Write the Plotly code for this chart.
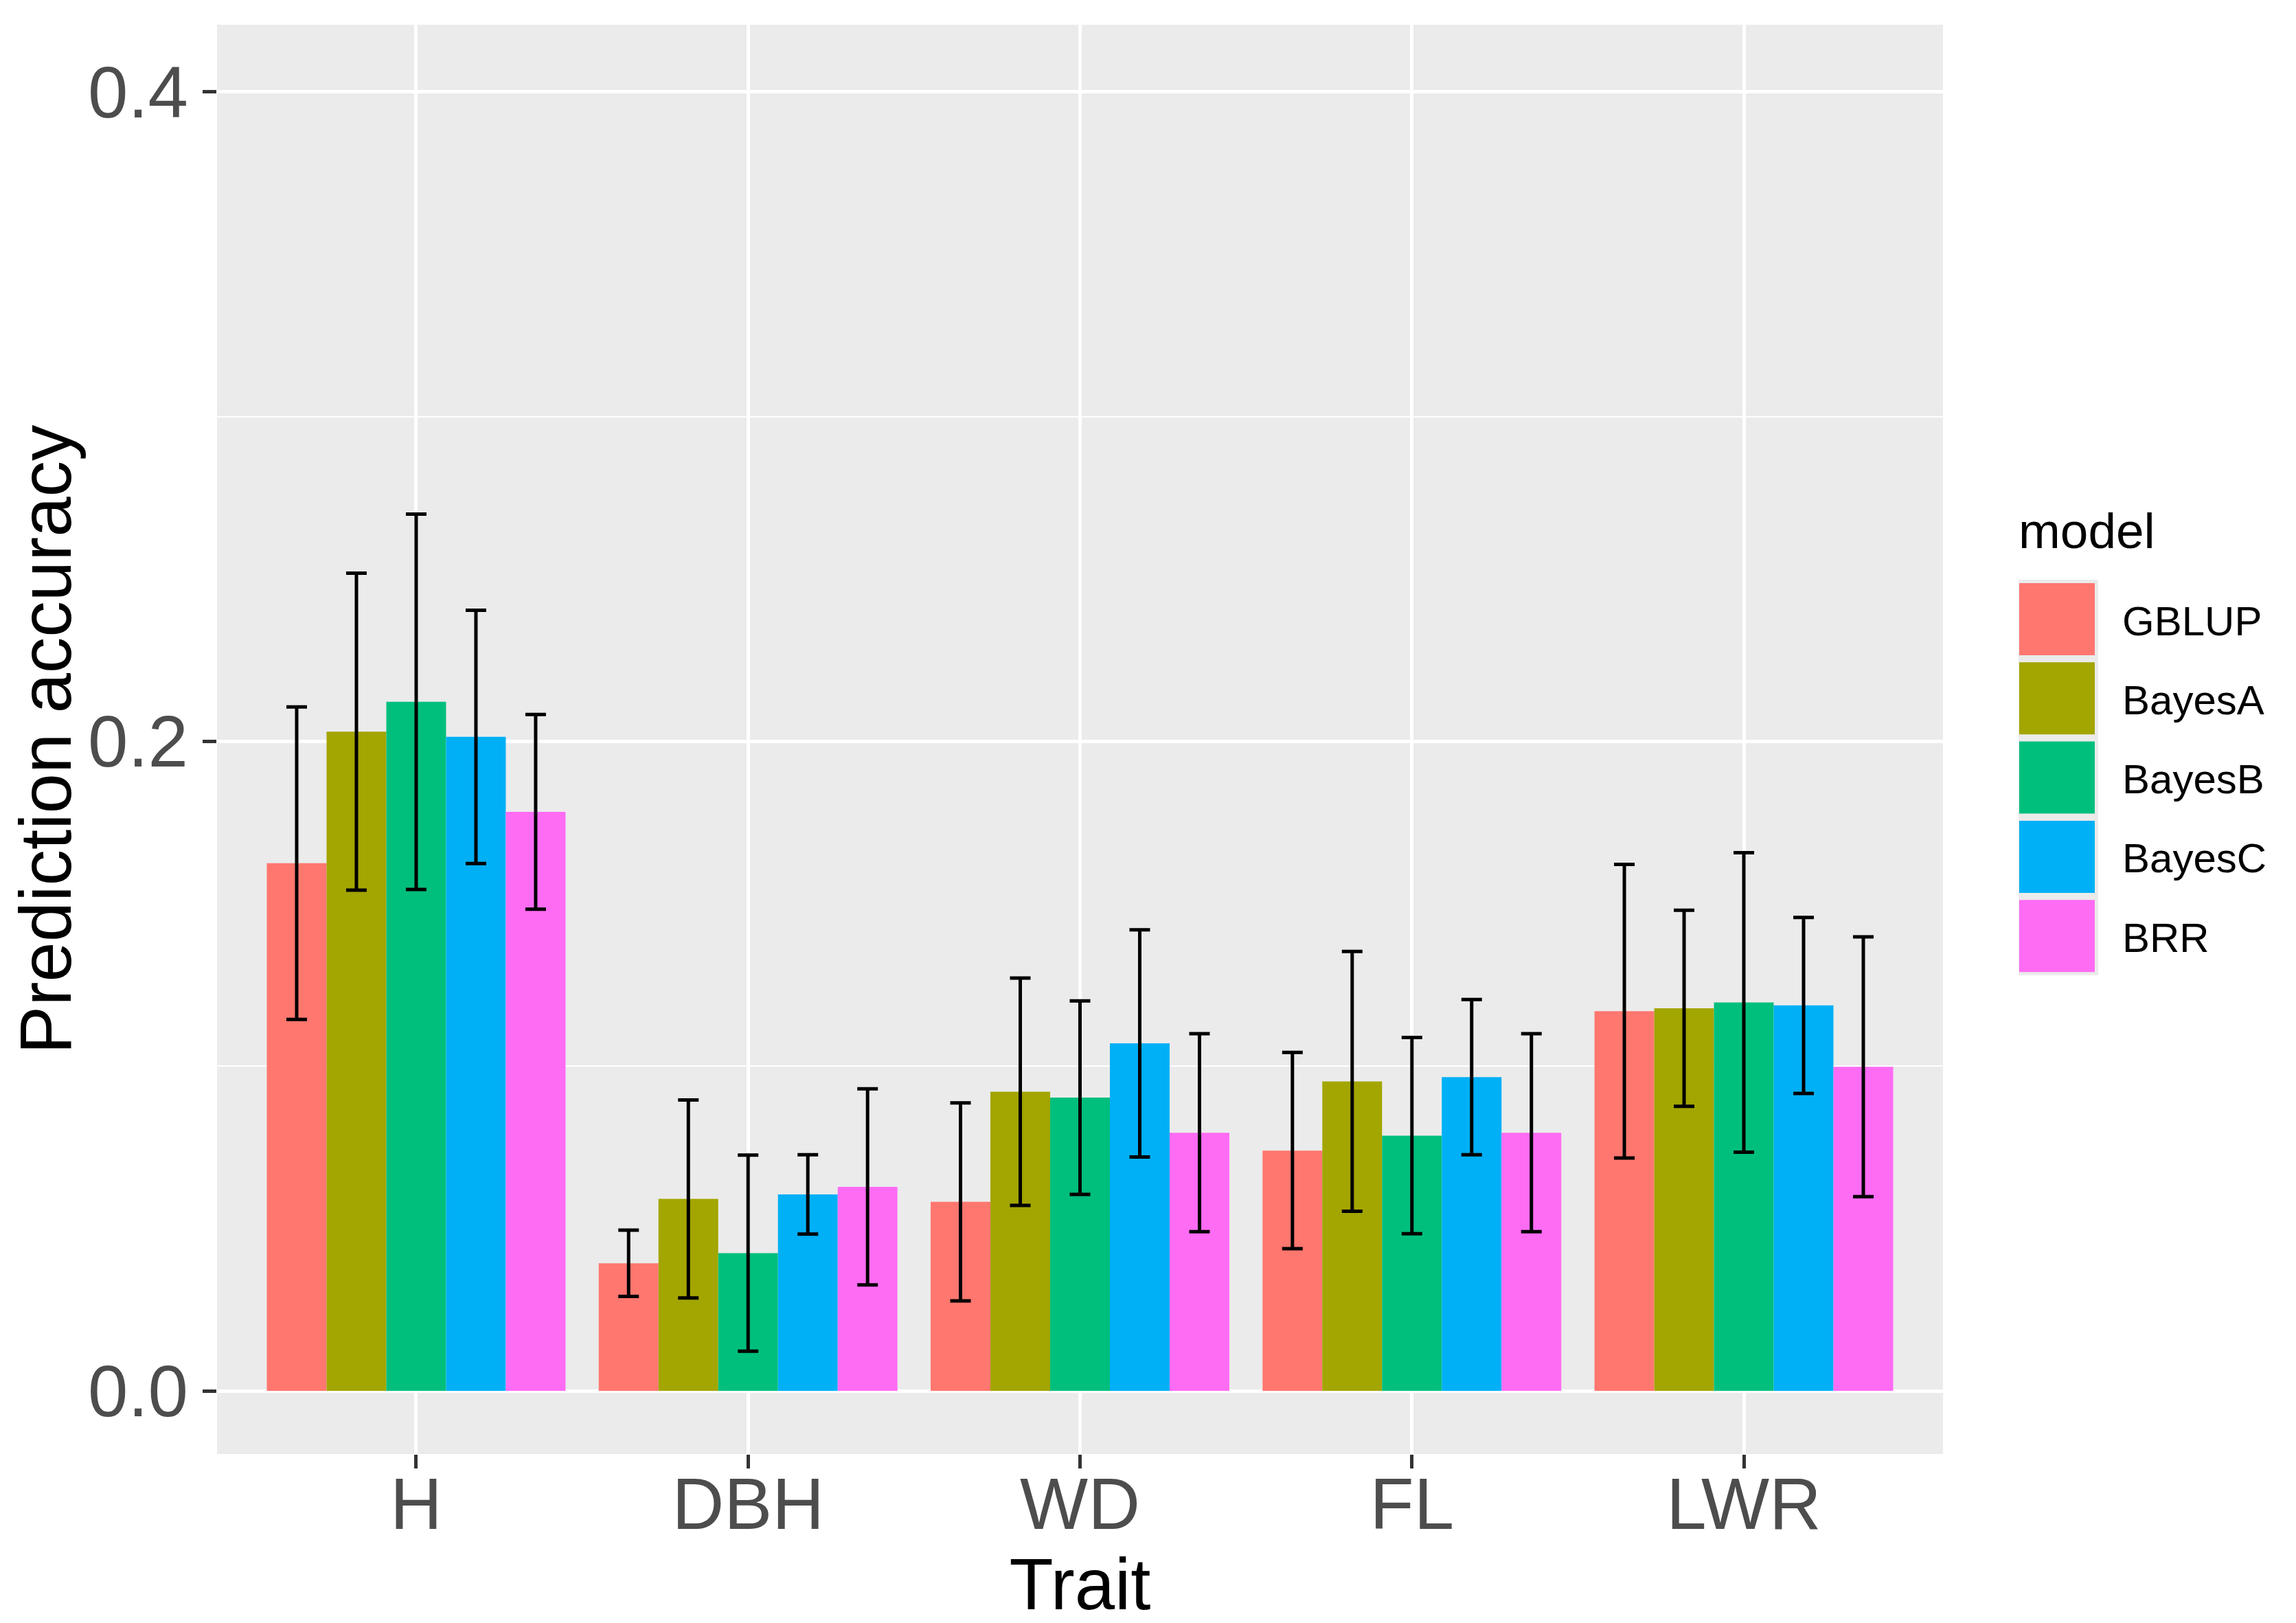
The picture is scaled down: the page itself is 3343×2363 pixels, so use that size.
import plotly.graph_objects as go

# data
traits = ["H", "DBH", "WD", "FL", "LWR"]
models = ["GBLUP", "BayesA", "BayesB", "BayesC", "BRR"]

gblup = [0.1625, 0.0393, 0.0582, 0.0740, 0.1169]
bayes_a = [0.2030, 0.0591, 0.0921, 0.0953, 0.1178]
bayes_b = [0.2122, 0.0424, 0.0903, 0.0786, 0.1196]
bayes_c = [0.2014, 0.0605, 0.1070, 0.0966, 0.1187]
brr = [0.1783, 0.0628, 0.0795, 0.0795, 0.0998]

gblup_err = [0.0481, 0.0102, 0.0305, 0.0302, 0.0452]
bayes_a_err = [0.0488, 0.0305, 0.0350, 0.0400, 0.0302]
bayes_b_err = [0.0578, 0.0302, 0.0298, 0.0302, 0.0461]
bayes_c_err = [0.0390, 0.0122, 0.0350, 0.0239, 0.0271]
brr_err = [0.0300, 0.0302, 0.0305, 0.0305, 0.0400]

colors = ["#FF776F", "#A3A500", "#00BF7D", "#00B0F6", "#FF6CF4"]

values = [gblup, bayes_a, bayes_b, bayes_c, brr]
errors = [gblup_err, bayes_a_err, bayes_b_err, bayes_c_err, brr_err]

W, H = 3343, 2363
L, R, T, B = 308, 2821, 28, 2109  # panel edges in px

fig = go.Figure()
for name, v, e, c in zip(models, values, errors, colors):
    fig.add_trace(go.Bar(
        x=traits, y=v, name=name, marker_color=c, marker_line_width=0,
        error_y=dict(type="data", array=e, color="black", thickness=5, width=15),
    ))


def px_x(p):
    return (p - L) / (R - L)


def px_y(p):
    return (B - p) / (B - T)


# hand-made ggplot style legend (big square keys)
shapes = [dict(type="rect", xref="paper", yref="paper",
               x0=px_x(2931), x1=px_x(3047), y0=px_y(1412), y1=px_y(836),
               fillcolor="#EBEBEB", line_width=0, layer="below")]
annotations = [dict(text="model", xref="paper", yref="paper", x=px_x(2929), y=px_y(764),
                    xanchor="left", yanchor="middle", showarrow=False,
                    font=dict(size=73, color="black"))]
for i, (name, c) in enumerate(zip(models, colors)):
    top = 841 + i * 115.3
    shapes.append(dict(type="rect", xref="paper", yref="paper",
                       x0=px_x(2932), x1=px_x(3042), y0=px_y(top + 105), y1=px_y(top),
                       fillcolor=c, line_width=0))
    annotations.append(dict(text=name, xref="paper", yref="paper", x=px_x(3080),
                            y=px_y(top + 55), xanchor="left", yanchor="middle",
                            showarrow=False, font=dict(size=60, color="black")))

fig.update_layout(
    width=W, height=H,
    margin=dict(l=L, r=W - R, t=T, b=H - B),
    paper_bgcolor="white", plot_bgcolor="#EBEBEB",
    font=dict(family="Liberation Sans, Arial, sans-serif"),
    barmode="group", bargap=0.1, bargroupgap=0,
    showlegend=False,
    shapes=shapes, annotations=annotations,
)
fig.update_xaxes(
    range=[-0.6, 4.6], showgrid=True, gridcolor="white", gridwidth=4.7,
    ticks="outside", ticklen=20, tickwidth=4.5, tickcolor="#333333",
    tickfont=dict(size=105, color="#4D4D4D"), ticklabelstandoff=-38,
    zeroline=False, showline=False,
    title=dict(text="Trait", font=dict(size=105, color="black"), standoff=22),
)
fig.update_yaxes(
    range=[-0.01946, 0.4207], tickvals=[0.0, 0.2, 0.4], ticktext=["0.0", "0.2", "0.4"],
    showgrid=True, gridcolor="white", gridwidth=4.7,
    minor=dict(tickvals=[0.1, 0.3], showgrid=True, gridcolor="white", gridwidth=2.3),
    ticks="outside", ticklen=20, tickwidth=4.5, tickcolor="#333333",
    tickfont=dict(size=105, color="#4D4D4D"), zeroline=False, showline=False,
    title=dict(text="Prediction accuracy", font=dict(size=105, color="black"), standoff=25),
)

fig.write_html("out.html")
